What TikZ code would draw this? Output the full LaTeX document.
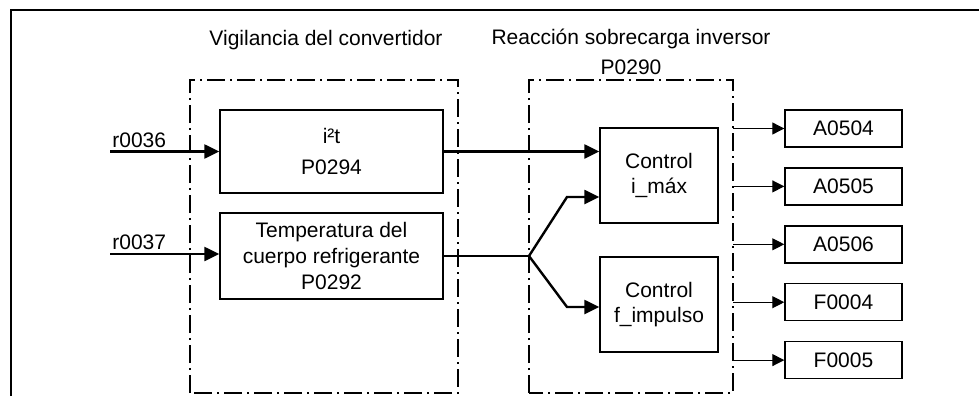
\documentclass[tikz,border=0pt]{standalone}
\usepackage{fontspec}
\setmainfont{Liberation Sans}
\usetikzlibrary{arrows.meta,positioning}

\begin{document}
\begin{tikzpicture}[
  x=0.5pt, y=-0.5pt,
  node distance=9.75pt,
  every node/.style={font=\fontsize{10.5}{15}\selectfont, align=center},
  frame/.style={line width=1pt},
  region/.style={line width=0.6pt, dash pattern=on 9pt off 2.5pt on 1pt off 2.5pt},
  blk/.style={rectangle, draw, line width=0.7pt, minimum width=111.5pt, inner sep=2pt, font=\fontsize{10.5}{13.2}\selectfont},
  ctrlbox/.style={rectangle, draw, line width=0.7pt, minimum width=59pt, minimum height=47.5pt, inner sep=2pt, font=\fontsize{10.5}{12.8}\selectfont},
  outbox/.style={rectangle, draw, line width=0.7pt, minimum width=58.5pt, minimum height=18.5pt, inner sep=2pt},
  sig/.style={line width=1.2pt, -{Triangle[length=7.5pt,width=7pt]}},
  alarm/.style={line width=0.55pt, -{Triangle[length=6pt,width=6pt]}}
]
  \useasboundingbox (0,0) rectangle (979,396);

  % frame and monitoring regions
  \draw[frame] (11,396) -- (11,10) -- (979,10);
  \draw[region] (190,393) -- (190,80) -- (458,80) -- (458,393) -- cycle;
  \draw[region] (529,393) -- (529,80) -- (733,80) -- (733,393) -- cycle;
  \coordinate (r2e) at (733,0);

  \node[inner sep=0pt] (vig) at (326,40) {Vigilancia del convertidor};
  \node[inner sep=0pt] (reac) at (631,52) {Reacción sobrecarga inversor\\P0290};

  % blocks
  \node[blk, minimum height=41.5pt] (i2t) at (331.5,151.5) {i²t\\[2pt]P0294};
  \node[blk, minimum height=43pt] (temp) at (331.5,256) {Temperatura del\\cuerpo refrigerante\\P0292};
  \node[ctrlbox] (ctrli) at (659,175.5) {Control\\i\_máx};
  \node[ctrlbox] (ctrlf) at (659,304.5) {Control\\f\_impulso};

  \node[outbox] (A0504) at (843.5,128.5) {A0504};
  \node[outbox, below=of A0504] (A0505) {A0505};
  \node[outbox, below=of A0505] (A0506) {A0506};
  \node[outbox, below=of A0506] (F0004) {F0004};
  \node[outbox, below=of F0004] (F0005) {F0005};

  % inputs
  \coordinate (in1) at (110,151.5);
  \coordinate (in2) at (110,254);
  \node[inner sep=0pt, anchor=south west] (lr36) at (112,148) {r0036};
  \node[inner sep=0pt, anchor=south west] (lr37) at (112,250) {r0037};
  \draw[sig] (in1) -- (in1 -| i2t.west);
  \draw[sig] (in2) -- (in2 -| temp.west);

  % to the control blocks
  \coordinate (split) at (529,256);
  \coordinate (bu) at (567,197);
  \coordinate (bd) at (567,307);
  \draw[sig] (i2t.east) -- (i2t.east -| ctrli.west);
  \draw[line width=1.2pt] (temp.east) -- (split);
  \draw[sig] (split) -- (bu) -- (bu -| ctrli.west);
  \draw[sig] (split) -- (bd) -- (bd -| ctrlf.west);

  % alarms and faults
  \foreach \o in {A0504,A0505,A0506,F0004,F0005}
    \draw[alarm] (\o.west -| r2e) -- (\o.west);
\end{tikzpicture}
\end{document}
